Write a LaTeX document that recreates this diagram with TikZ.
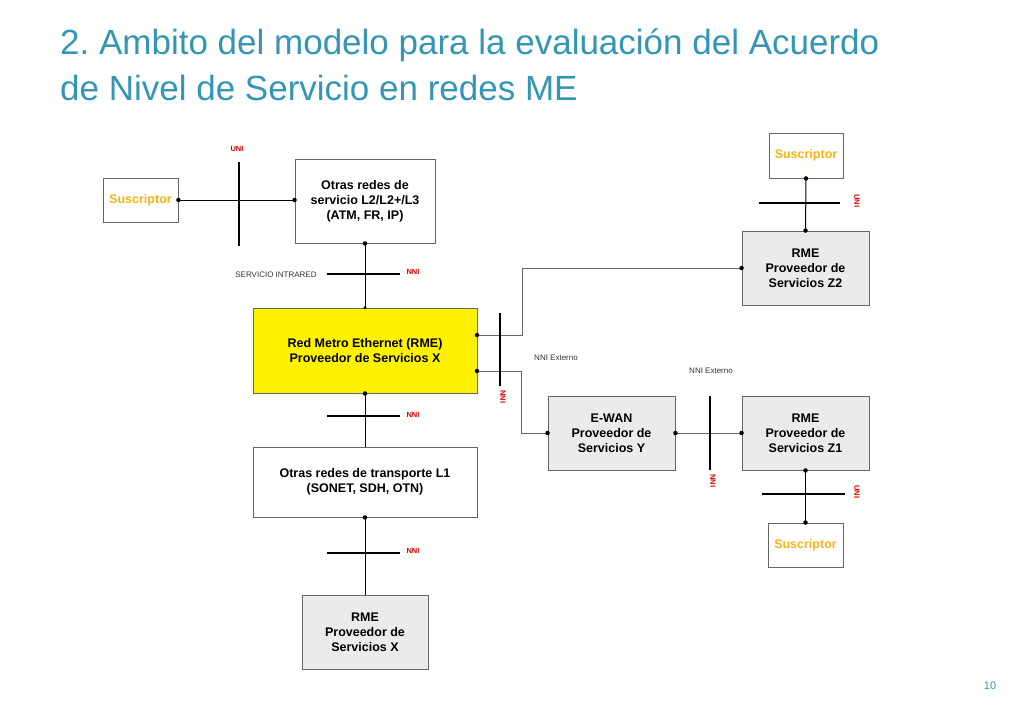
\documentclass[tikz,border=0pt]{standalone}
\usepackage{fontspec}
\setmainfont{Liberation Sans}
\frenchspacing
\begin{document}
\begin{tikzpicture}[x=1pt,y=-1pt,
 box/.style={draw=black!60,line width=0.9pt,minimum width=#1,inner sep=0pt,align=center,font=\fontsize{12.5}{15}\selectfont\bfseries},
 gbox/.style={box=#1,fill=black!8},
 sus/.style={box=#1,text={rgb,255:red,245;green,180;blue,20}},
 bar/.style={line width=1.3pt},
 conn/.style={line width=1pt},
 thin/.style={draw=black!60,line width=0.7pt},
 dot/.style={circle,fill=black,inner sep=0pt,minimum size=4.5pt},
 red/.style={text=red!85!black,font=\fontsize{7.5}{8}\selectfont\bfseries},
 lab/.style={font=\fontsize{8}{9}\selectfont,text=black!80}]
\useasboundingbox (0,0) rectangle (1024,709);
\definecolor{teal}{RGB}{52,150,180}
\node[anchor=base west,inner sep=0pt,text=teal,font=\fontsize{35}{40}\selectfont] (t1) at (60,55) {2. Ambito del modelo para la evaluación del Acuerdo};
\node[anchor=base west,inner sep=0pt,text=teal,font=\fontsize{35}{40}\selectfont] (t2) at (60,100) {de Nivel de Servicio en redes ME};
\node[text=teal,font=\fontsize{11}{12}\selectfont] (pg) at (990,686) {10};

\node[sus=75pt,minimum height=44pt] (s1) at (140.5,200) {Suscriptor};
\node[box=140pt,minimum height=84pt] (o1) at (365,201) {Otras redes de\\servicio L2/L2+/L3\\(ATM, FR, IP)};
\node[box=224pt,minimum height=85pt,fill=yellow] (x) at (365,350.5) {Red Metro Ethernet (RME)\\Proveedor de Servicios X};
\node[box=224pt,minimum height=70pt] (o2) at (365,482) {Otras redes de transporte L1\\(SONET, SDH, OTN)};
\node[gbox=126pt,minimum height=74pt] (rx) at (365,632) {RME\\Proveedor de\\Servicios X};
\node[sus=74pt,minimum height=45pt] (s2) at (806,155.5) {Suscriptor};
\node[gbox=127pt,minimum height=74pt] (z2) at (805.5,268) {RME\\Proveedor de\\Servicios Z2};
\node[gbox=127pt,minimum height=74pt] (y) at (611.5,433) {E-WAN\\Proveedor de\\Servicios Y};
\node[gbox=127pt,minimum height=74pt] (z1) at (805.5,433) {RME\\Proveedor de\\Servicios Z1};
\node[sus=75pt,minimum height=44pt] (s3) at (805.5,545) {Suscriptor};

\draw[conn] (s1.east) -- (s1.east -| o1.west) coordinate (o1w);
\node[dot] at (s1.east) {}; \node[dot] at (o1w) {};
\draw[bar] (239,162) -- (239,246);
\node[red] (u1) at (237,149) {UNI};

\draw[conn] (o1.south) -- (x.north);
\node[dot] at (o1.south) {}; \node[dot,minimum size=3pt] at (x.north) {};
\draw[bar] (327,274) -- (400,274);
\node[red] (n1) at (413,272) {NNI};
\node[lab] (si) at (276,275) {SERVICIO INTRARED};

\draw[conn] (x.south) -- (o2.north);
\node[dot] at (x.south) {};
\draw[bar] (327,416) -- (400,416);
\node[red] (n2) at (413,415) {NNI};

\draw[conn] (o2.south) -- (rx.north);
\node[dot] at (o2.south) {};
\draw[bar] (327,553) -- (400,553);
\node[red] (n3) at (413,551) {NNI};

\coordinate (xa) at (477,335);
\coordinate (xb) at (477,371);
\draw[thin] (xa) -- (522,335) -- (522,268) -- (z2.west);
\draw[thin] (xb) -- (521,371) -- (521,433) -- (y.west);
\node[dot] at (xa) {}; \node[dot] at (xb) {}; \node[dot] at (z2.west) {}; \node[dot] at (y.west) {};
\draw[bar] (500,313) -- (500,386);
\node[red,rotate=-90] (n4) at (503,397) {NNI};
\node[lab] (ne1) at (556,358) {NNI Externo};

\draw[thin] (y.east) -- (z1.west);
\node[dot] at (y.east) {}; \node[dot] at (z1.west) {};
\draw[bar] (710,396) -- (710,470);
\node[red,rotate=-90] (n5) at (713,481) {NNI};
\node[lab] (ne2) at (711,371) {NNI Externo};

\draw[conn] (z1.south) -- (s3.north);
\node[dot] at (z1.south) {}; \node[dot] at (s3.north) {};
\draw[bar] (762,494) -- (845,494);
\node[red,rotate=-90] (u2) at (857,492) {UNI};

\draw[conn] (s2.south) -- (z2.north);
\node[dot] at (s2.south) {}; \node[dot] at (z2.north) {};
\draw[bar] (759,203) -- (840,203);
\node[red,rotate=-90] (u3) at (857,201) {UNI};
\end{tikzpicture}
\end{document}
